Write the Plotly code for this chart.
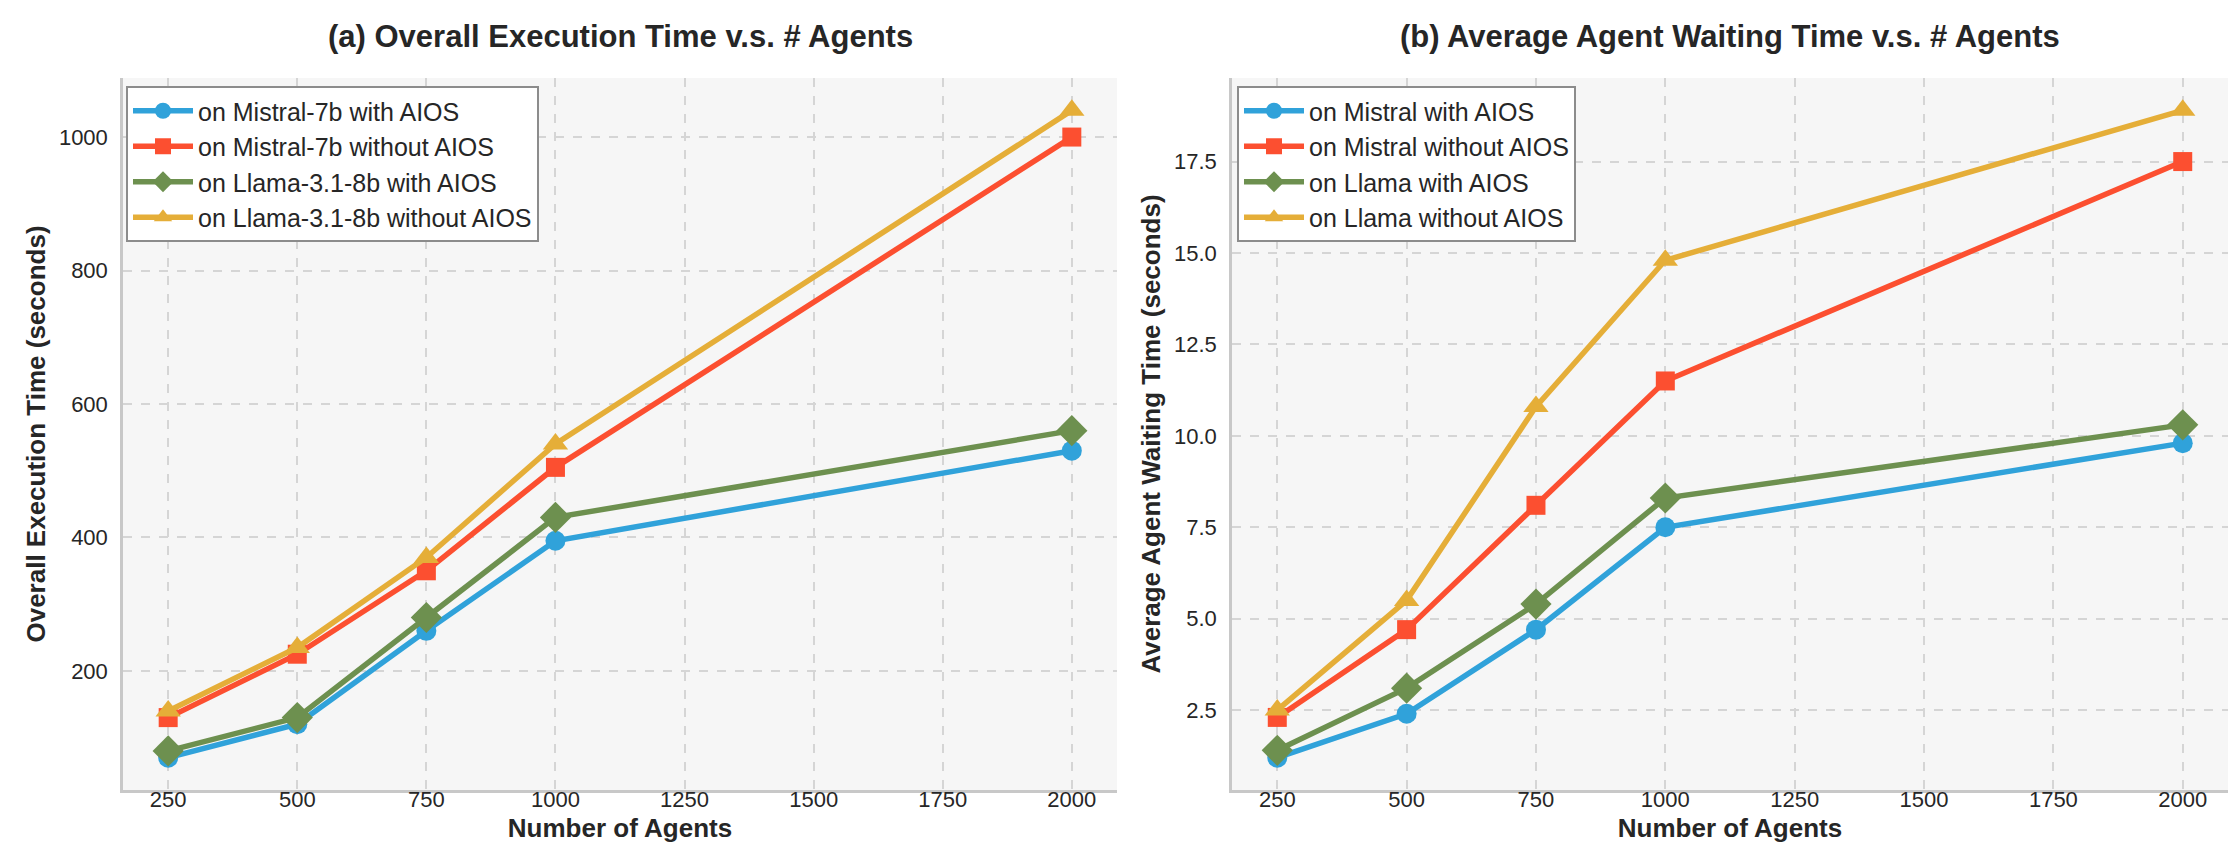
import plotly.graph_objects as go
from plotly.subplots import make_subplots

# Data
agents = [250, 500, 750, 1000, 2000]

exec_mistral_aios = [70, 120, 260, 395, 530]
exec_mistral_no_aios = [130, 225, 350, 505, 1000]
exec_llama_aios = [80, 130, 280, 430, 560]
exec_llama_no_aios = [140, 235, 370, 540, 1040]

wait_mistral_aios = [1.2, 2.4, 4.7, 7.5, 9.8]
wait_mistral_no_aios = [2.3, 4.7, 8.1, 11.5, 17.5]
wait_llama_aios = [1.4, 3.1, 5.4, 8.3, 10.3]
wait_llama_no_aios = [2.5, 5.5, 10.8, 14.8, 18.9]

left_names = ["on Mistral-7b with AIOS", "on Mistral-7b without AIOS",
              "on Llama-3.1-8b with AIOS", "on Llama-3.1-8b without AIOS"]
right_names = ["on Mistral with AIOS", "on Mistral without AIOS",
               "on Llama with AIOS", "on Llama without AIOS"]

colors = ["#30a2da", "#fc4f30", "#6d904f", "#e5ae38"]
symbols = ["circle", "square", "diamond", "triangle-up"]
sizes = [20, 19, 24, 22]

FONT = "Liberation Sans, Arial, sans-serif"
W, H = 2236, 864

fig = make_subplots(rows=1, cols=2)

left_series = [exec_mistral_aios, exec_mistral_no_aios, exec_llama_aios, exec_llama_no_aios]
right_series = [wait_mistral_aios, wait_mistral_no_aios, wait_llama_aios, wait_llama_no_aios]

for i, (name, ys) in enumerate(zip(left_names, left_series)):
    fig.add_trace(go.Scatter(
        x=agents, y=ys, name=name, mode="lines+markers", legend="legend",
        line=dict(color=colors[i], width=5.5),
        marker=dict(symbol=symbols[i], size=sizes[i], color=colors[i])
    ), 1, 1)

for i, (name, ys) in enumerate(zip(right_names, right_series)):
    fig.add_trace(go.Scatter(
        x=agents, y=ys, name=name, mode="lines+markers", legend="legend2",
        line=dict(color=colors[i], width=5.5),
        marker=dict(symbol=symbols[i], size=sizes[i], color=colors[i])
    ), 1, 2)

axis_common = dict(
    showgrid=True, gridcolor="#d5d5d5", gridwidth=1.5, griddash="dash",
    showline=True, linecolor="#c8c8c8", linewidth=2.5, mirror=False,
    zeroline=False, ticks="", tickfont=dict(size=22, color="#262626", family=FONT),
)

fig.update_xaxes(axis_common)
fig.update_yaxes(axis_common)

for c, dom in [(1, [115 / W, 1109 / W]), (2, [1224 / W, 2220 / W])]:
    fig.update_xaxes(
        domain=dom, range=[162.5, 2087.5], tickvals=[250, 500, 750, 1000, 1250, 1500, 1750, 2000],
        ticklabelstandoff=-12,
        title=dict(text="<b>Number of Agents</b>", font=dict(size=26, color="#262626", family=FONT), standoff=8),
        row=1, col=c)

fig.update_yaxes(
    domain=[1 - 782 / H, 1 - 70 / H], range=[21.5, 1088.5], tickvals=[200, 400, 600, 800, 1000],
    ticklabelstandoff=8,
    title=dict(text="<b>Overall Execution Time (seconds)</b>", font=dict(size=26, color="#262626", family=FONT), standoff=6),
    row=1, col=1)
fig.update_yaxes(
    domain=[1 - 782 / H, 1 - 70 / H], range=[0.315, 19.785], tickvals=[2.5, 5, 7.5, 10, 12.5, 15, 17.5],
    tickformat=".1f", ticklabelstandoff=8,
    title=dict(text="<b>Average Agent Waiting Time (seconds)</b>", font=dict(size=26, color="#262626", family=FONT), standoff=6),
    row=1, col=2)

legend_style = dict(
    xanchor="left", yanchor="top", bgcolor="white", bordercolor="#8c8c8c", borderwidth=2,
    font=dict(size=25, color="#262626", family=FONT), tracegroupgap=0, itemwidth=60,
)

fig.update_layout(
    width=W, height=H,
    margin=dict(l=0, r=0, t=0, b=0),
    paper_bgcolor="white", plot_bgcolor="#f6f6f6",
    font=dict(family=FONT, color="#262626"),
    legend=dict(legend_style, x=118 / W, y=1 - 78 / H),
    legend2=dict(legend_style, x=1229 / W, y=1 - 78 / H),
    annotations=[
        dict(text="<b>(a) Overall Execution Time v.s. # Agents</b>", x=(115 + 1109) / 2 / W, y=1 - 28 / H,
             xref="paper", yref="paper", xanchor="center", yanchor="middle", showarrow=False,
             font=dict(size=31, color="#262626", family=FONT)),
        dict(text="<b>(b) Average Agent Waiting Time v.s. # Agents</b>", x=(1224 + 2220) / 2 / W, y=1 - 28 / H,
             xref="paper", yref="paper", xanchor="center", yanchor="middle", showarrow=False,
             font=dict(size=31, color="#262626", family=FONT)),
    ],
)

fig.write_html("out.html")
